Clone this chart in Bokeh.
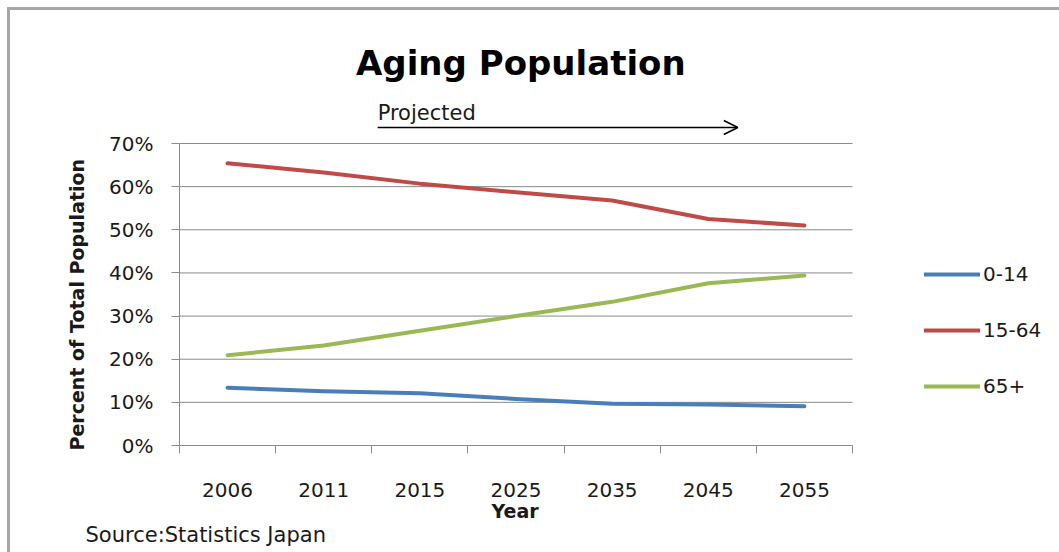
from bokeh.plotting import figure
from bokeh.models import (FixedTicker, NumeralTickFormatter, Range1d, Label, Arrow,
                          OpenHead, Title)
from bokeh.embed import file_html
from bokeh.resources import INLINE

# Share of Japan's population by age group
years = ["2006", "2011", "2015", "2025", "2035", "2045", "2055"]
age_0_14 = [0.134, 0.126, 0.121, 0.108, 0.097, 0.095, 0.091]
age_15_64 = [0.654, 0.633, 0.607, 0.587, 0.568, 0.525, 0.510]
age_65_plus = [0.209, 0.232, 0.266, 0.300, 0.333, 0.376, 0.394]
y_ticks = [0.0, 0.1, 0.2, 0.3, 0.4, 0.5, 0.6, 0.7]

series = [
    ("0-14", age_0_14, "#4a7ebb"),
    ("15-64", age_15_64, "#be4b48"),
    ("65+", age_65_plus, "#98b954"),
]

n = len(years)
xs = list(range(n))
bounds = [i - 0.5 for i in range(n + 1)]

FONT = "DejaVu Sans"
TEXT = "#1a1a1a"
GRID = "#8a8a8a"

# The frame runs to the top and right edges so the heading, the "Projected"
# arrow and the legend sit in data space; the plot area proper spans the
# seven year slots and 0-70%.
p = figure(width=1059, height=552, output_backend="svg", toolbar_location=None,
           x_range=Range1d(-0.5, 8.653), y_range=Range1d(0, 1.0315),
           min_border_left=179, min_border_right=0, min_border_top=0,
           min_border_bottom=107)
p.outline_line_color = None
p.background_fill_color = None
p.border_fill_color = None
# thin grey edge along the top and left of the chart area
p.styles = {"box-shadow": "inset 7px 7px 0 0 white, inset 10px 10px 0 0 #a6a6a6",
            "background-color": "white"}

# horizontal gridlines across the year slots only
p.segment(x0=[bounds[0]] * len(y_ticks), x1=[bounds[-1]] * len(y_ticks),
          y0=y_ticks, y1=y_ticks, line_color=GRID, line_width=1)

for name, vals, color in series:
    p.line(xs, vals, line_color=color, line_width=4, line_cap="round",
           line_join="round", legend_label=name)

p.xgrid.grid_line_color = None
p.ygrid.grid_line_color = None

# category axis: boundary tick marks, labels centred in each slot
xax = p.xaxis[0]
xax.bounds = (bounds[0], bounds[-1])
xax.ticker = FixedTicker(ticks=xs, minor_ticks=bounds)
xax.major_label_overrides = {i: y for i, y in enumerate(years)}
xax.major_tick_out = 0
xax.major_tick_in = 0
xax.minor_tick_out = 8
xax.minor_tick_in = 0
xax.minor_tick_line_color = GRID
xax.axis_line_color = GRID
xax.major_label_standoff = 29
xax.major_label_text_font = FONT
xax.major_label_text_font_size = "20px"
xax.major_label_text_color = TEXT

yax = p.yaxis[0]
yax.ticker = FixedTicker(ticks=y_ticks)
yax.bounds = (y_ticks[0], y_ticks[-1])
yax.formatter = NumeralTickFormatter(format="0%")
yax.major_tick_out = 8
yax.major_tick_in = 0
yax.minor_tick_line_color = None
yax.major_tick_line_color = GRID
yax.axis_line_color = GRID
yax.major_label_standoff = 18
yax.major_label_text_font = FONT
yax.major_label_text_font_size = "20px"
yax.major_label_text_color = TEXT

# axis titles, centred on the plot area rather than the whole frame
p.add_layout(Title(text="Percent of Total Population", align="left", offset=-5,
                   text_font=FONT, text_font_size="19px", text_font_style="bold",
                   text_color=TEXT, standoff=38), "left")
p.add_layout(Title(text="Year", align="left", offset=312,
                   text_font=FONT, text_font_size="19px", text_font_style="bold",
                   text_color=TEXT, standoff=-3), "below")
p.add_layout(Title(text="Source:Statistics Japan", align="left", offset=-94,
                   text_font=FONT, text_font_size="21px", text_font_style="normal",
                   text_color=TEXT, standoff=0), "below")

leg = p.legend[0]
leg.location = (745, 47)
leg.padding = 0
leg.margin = 0
leg.border_line_color = None
leg.background_fill_alpha = 0
leg.glyph_width = 56
leg.glyph_height = 20
leg.label_height = 20
leg.label_standoff = 3
leg.spacing = 32
leg.label_text_font = FONT
leg.label_text_font_size = "20px"
leg.label_text_color = TEXT

p.add_layout(Label(x=3.05, y=0.8877, text="Aging Population", text_align="center",
                   text_baseline="middle", text_font=FONT, text_font_size="34px",
                   text_font_style="bold", text_color="black"))
p.add_layout(Label(x=1.561, y=0.7718, text="Projected", text_align="left",
                   text_baseline="middle", text_font=FONT, text_font_size="21px",
                   text_color=TEXT))
p.add_layout(Arrow(x_start=1.561, y_start=0.7371, x_end=5.307, y_end=0.7371,
                   line_color="black", line_width=1.5,
                   end=OpenHead(size=14, line_color="black", line_width=1.5)))

open("out.html", "w").write(file_html(p, INLINE))
